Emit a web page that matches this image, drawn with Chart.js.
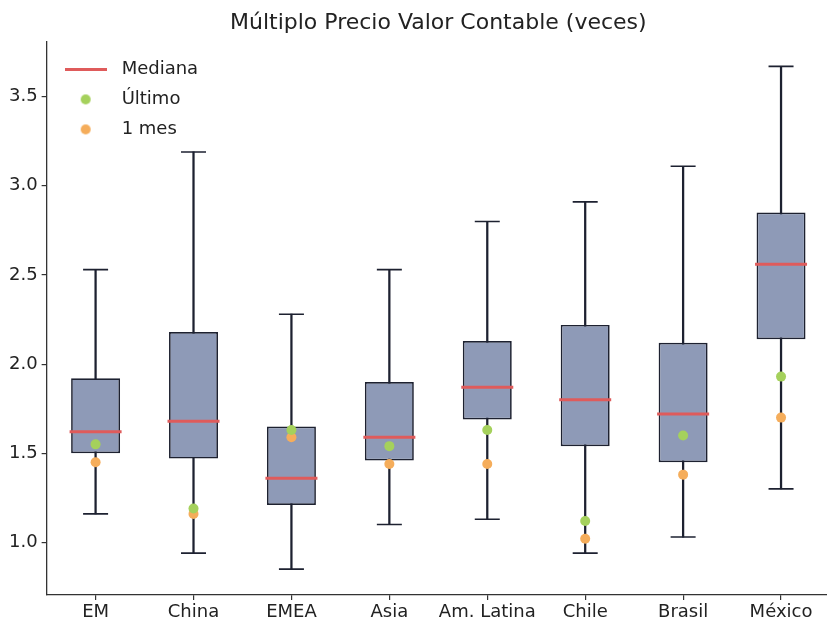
<!DOCTYPE html>
<html>
<head>
<meta charset="utf-8">
<script src="https://cdn.jsdelivr.net/npm/chart.js@4/dist/chart.umd.min.js"></script>
<style>
  html, body { margin: 0; padding: 0; background: #ffffff; overflow: hidden; }
  #wrap { width: 832px; height: 626px; }
</style>
</head>
<body>
<div id="wrap"><canvas id="chart" width="832" height="626"></canvas></div>
<script>
// Price-to-book multiple by region: box statistics plus latest and 1-month-ago values
const categories = ['EM', 'China', 'EMEA', 'Asia', 'Am. Latina', 'Chile', 'Brasil', 'México'];
const whiskerLow  = [1.16, 0.94, 0.85, 1.10, 1.13, 0.94, 1.03, 1.30];
const q1          = [1.50, 1.47, 1.21, 1.46, 1.69, 1.54, 1.45, 2.14];
const median      = [1.62, 1.68, 1.36, 1.59, 1.87, 1.80, 1.72, 2.56];
const q3          = [1.92, 2.18, 1.65, 1.90, 2.13, 2.22, 2.12, 2.85];
const whiskerHigh = [2.53, 3.19, 2.28, 2.53, 2.80, 2.91, 3.11, 3.67];
const ultimo      = [1.55, 1.19, 1.63, 1.54, 1.63, 1.12, 1.60, 1.93];
const unMes       = [1.45, 1.16, 1.59, 1.44, 1.44, 1.02, 1.38, 1.70];
const yTicks      = [1.0, 1.5, 2.0, 2.5, 3.0, 3.5];

const FONT = "'DejaVu Sans', sans-serif";
const BOX_FILL = '#8e9ab7';
const EDGE = '#1d2130';
const RED = '#df5b5b';
const GREEN = '#a5d15c';
const ORANGE = '#f5ad5b';
const TEXT = '#222222';

// small canvases used as legend markers
function lineIcon(color) {
  const c = document.createElement('canvas');
  c.width = 42; c.height = 3;
  const g = c.getContext('2d');
  g.fillStyle = color; g.fillRect(0, 0, 42, 3);
  return c;
}
function dotIcon(color) {
  const c = document.createElement('canvas');
  c.width = 12; c.height = 12;
  const g = c.getContext('2d');
  g.fillStyle = color; g.beginPath(); g.arc(6, 6, 5, 0, Math.PI * 2); g.fill();
  return c;
}
const legendIcons = { 'Mediana': lineIcon(RED), 'Último': dotIcon(GREEN), '1 mes': dotIcon(ORANGE) };

const ranges = (lo, hi) => categories.map((_, i) => [lo[i], hi[i]]);

// anchor the legend inside the top of the plot area and centre the title over the plot
const plotAnchors = {
  id: 'plotAnchors',
  afterLayout(chart) {
    const area = chart.chartArea;
    const lg = chart.legend;
    if (lg) {
      const h = lg.height;
      lg.top = area.top + 7;
      lg.bottom = lg.top + h;
    }
    const tb = chart.titleBlock;
    if (tb) {
      tb.left = area.left;
      tb.right = area.right;
      tb.width = area.right - area.left;
    }
  }
};

new Chart(document.getElementById('chart'), {
  type: 'bar',
  data: {
    labels: categories,
    datasets: [
      { label: 'whisker', data: ranges(whiskerLow, whiskerHigh), backgroundColor: EDGE,
        barThickness: 1.6, grouped: false, order: 6 },
      { label: 'box', data: ranges(q1, q3), backgroundColor: BOX_FILL, borderColor: EDGE,
        borderWidth: 1.7, borderSkipped: false, barPercentage: 0.5, categoryPercentage: 1.0,
        grouped: false, order: 5 },
      { type: 'line', label: 'capLow', data: whiskerLow, showLine: false, pointStyle: 'line',
        pointRadius: 12.5, pointBorderWidth: 1.6, pointBorderColor: EDGE, order: 4 },
      { type: 'line', label: 'capHigh', data: whiskerHigh, showLine: false, pointStyle: 'line',
        pointRadius: 12.5, pointBorderWidth: 1.6, pointBorderColor: EDGE, order: 4 },
      { type: 'line', label: 'Mediana', data: median, showLine: false, pointStyle: 'line',
        pointRadius: 26, pointBorderWidth: 3, pointBorderColor: RED, order: 3 },
      { type: 'line', label: 'Último', data: ultimo, showLine: false, pointStyle: 'circle',
        pointRadius: 5, pointBorderWidth: 0, pointBackgroundColor: GREEN, order: 1 },
      { type: 'line', label: '1 mes', data: unMes, showLine: false, pointStyle: 'circle',
        pointRadius: 5, pointBorderWidth: 0, pointBackgroundColor: ORANGE, order: 2 }
    ]
  },
  plugins: [plotAnchors],
  options: {
    responsive: false,
    animation: false,
    events: [],
    layout: { autoPadding: false, padding: { left: 5, right: 2, top: 2, bottom: 2 } },
    plugins: {
      tooltip: { enabled: false },
      title: {
        display: true,
        text: 'Múltiplo Precio Valor Contable (veces)',
        color: TEXT,
        font: { family: FONT, size: 22, weight: 'normal' },
        padding: { top: 8, bottom: 5 }
      },
      legend: {
        position: 'chartArea',
        align: 'start',
        fullSize: false,
        labels: {
          usePointStyle: true,
          pointStyleWidth: 54,
          padding: 12,
          color: TEXT,
          font: { family: FONT, size: 18 },
          generateLabels: () => ['Mediana', 'Último', '1 mes'].map(t => ({
            text: t, pointStyle: legendIcons[t], fillStyle: 'rgba(0,0,0,0)',
            strokeStyle: 'rgba(0,0,0,0)', lineWidth: 0, hidden: false, fontColor: TEXT
          }))
        }
      }
    },
    scales: {
      x: {
        type: 'category',
        offset: true,
        afterFit: (s) => { s.paddingLeft = 0; s.paddingRight = 0; },
        grid: { display: true, drawOnChartArea: false, drawTicks: true, tickLength: 5, offset: false, color: '#333333', lineWidth: 1.2 },
        border: { display: true, color: '#333333', width: 1.3 },
        ticks: { color: TEXT, font: { family: FONT, size: 18, lineHeight: 1.0 }, padding: 3,
                 maxRotation: 0, minRotation: 0, autoSkip: false }
      },
      y: {
        type: 'linear',
        min: 0.705,
        max: 3.81,
        afterBuildTicks: (scale) => { scale.ticks = yTicks.map(v => ({ value: v })); },
        grid: { display: true, drawOnChartArea: false, drawTicks: true, tickLength: 5, color: '#333333', lineWidth: 1.2 },
        border: { display: true, color: '#333333', width: 1.3 },
        ticks: { color: TEXT, font: { family: FONT, size: 18 }, padding: 4,
                 callback: (v) => Number(v).toFixed(1) }
      }
    }
  }
});
</script>
</body>
</html>
